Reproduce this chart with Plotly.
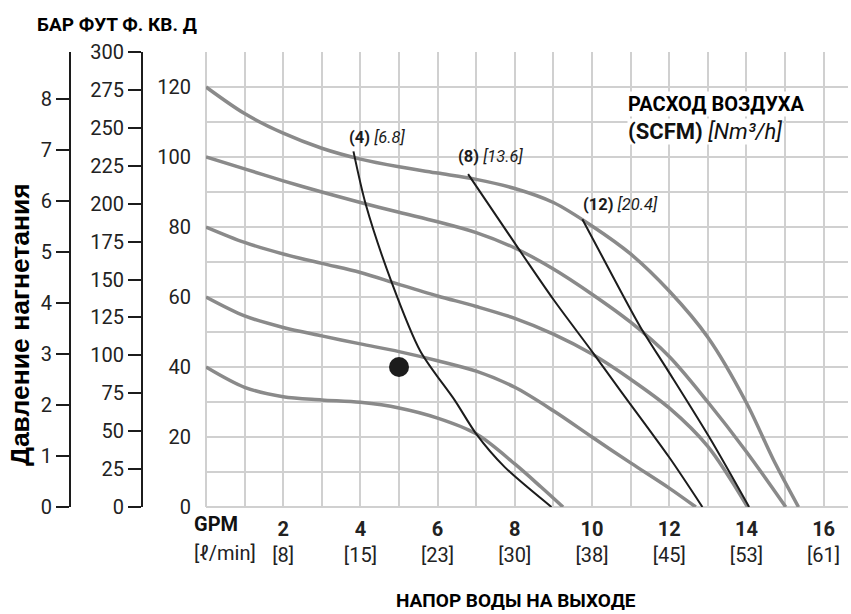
import plotly.graph_objects as go

# ---------------- data ----------------
gpm_ticks = [2, 4, 6, 8, 10, 12, 14, 16]
lpm_ticks = ["8", "15", "23", "30", "38", "45", "53", "61"]
psi_ticks = [0, 20, 40, 60, 80, 100, 120]
bar_ticks = [0, 1, 2, 3, 4, 5, 6, 7, 8]
ft_ticks = [0, 25, 50, 75, 100, 125, 150, 175, 200, 225, 250, 275, 300]

# discharge pressure curves (GPM, psi)
p120_gpm = [0, 1, 2, 3, 4, 5, 6, 7, 8, 9, 10, 11, 12, 13, 14, 14.7, 15.35]
p120_psi = [120, 112.4, 106.8, 102.5, 99.4, 97.2, 95.4, 93.6, 91.0, 87.0, 80.3, 72.3, 61.7, 48.5, 29.8, 13.5, 0]
p100_gpm = [0, 1, 2, 3, 4, 5, 6, 7, 8, 9, 10, 11, 12, 13, 14, 15.02]
p100_psi = [100, 96.6, 93.2, 90.0, 87.0, 84.2, 81.5, 78.4, 74.0, 68.0, 60.8, 52.8, 43.0, 30.0, 15.8, 0]
p80_gpm = [0, 1, 2, 3, 4, 5, 6, 7, 8, 9, 10, 11, 12, 13, 14.03]
p80_psi = [80, 75.6, 72.3, 69.6, 67.0, 63.6, 60.3, 57.3, 53.9, 49.4, 43.7, 36.5, 28.3, 17.3, 0]
p60_gpm = [0, 1, 2, 3, 4, 5, 6, 7, 8, 9, 10, 11, 12, 12.69]
p60_psi = [60, 54.6, 51.3, 48.9, 46.6, 44.4, 41.8, 38.8, 34.2, 27.5, 20.0, 12.6, 5.4, 0]
p40_gpm = [0, 1, 2, 3, 4, 5, 6, 7, 8, 8.68, 9.25]
p40_psi = [40, 34.2, 31.5, 30.6, 29.9, 28.3, 25.4, 20.9, 12.3, 5.7, 0]

# air consumption lines (GPM, psi)
air4_gpm = [3.82, 4.14, 4.81, 5.55, 6.45, 7, 7.74, 8.95]
air4_psi = [101.6, 86.4, 64.2, 44.6, 30.4, 20.9, 11.4, 0]
air8_gpm = [6.79, 8.25, 9.02, 10.05, 10.74, 12, 12.86]
air8_psi = [95.1, 71.3, 59.0, 43.7, 33.2, 14.2, 0]
air12_gpm = [9.75, 10.23, 10.8, 11.26, 12, 13.04, 14.07]
air12_psi = [82.2, 72.3, 60.5, 51.3, 38.4, 19.9, 0]

air_scfm = ["(4)", "(8)", "(12)"]
air_nm3h = ["[6.8]", "[13.6]", "[20.4]"]
air_label_gpm = [3.65, 6.48, 9.72]
air_label_psi = [105.7, 100.1, 86.3]

point_gpm = [5]
point_psi = [40]

# ---------------- styling / geometry ----------------
NARROW = "Roboto, Liberation Sans Narrow, sans-serif"
WIDE = "Liberation Sans, Arial, sans-serif"
W, H = 851, 614
L_PX, R_PX, T_PX, B_PX = 206, 848, 52, 507
PX_PER_GPM = 38.6
PAPER_W = R_PX
GRID = "#d0d0d0"
CURVE = "#8a8a8a"
INK = "#1c1c1c"


def px_x(px):
    return px / PAPER_W


def px_y(py):
    return (B_PX - py) / (B_PX - T_PX)


fig = go.Figure()

for gx, gy in [(p120_gpm, p120_psi), (p100_gpm, p100_psi), (p80_gpm, p80_psi),
               (p60_gpm, p60_psi), (p40_gpm, p40_psi)]:
    fig.add_trace(go.Scatter(x=gx, y=gy, mode="lines", hoverinfo="skip",
                             line=dict(color=CURVE, width=3.5, shape="spline", smoothing=0.9)))

for gx, gy in [(air4_gpm, air4_psi), (air8_gpm, air8_psi), (air12_gpm, air12_psi)]:
    fig.add_trace(go.Scatter(x=gx, y=gy, mode="lines", hoverinfo="skip",
                             line=dict(color=INK, width=2, shape="spline", smoothing=0.8)))

fig.add_trace(go.Scatter(x=point_gpm, y=point_psi, mode="markers", hoverinfo="skip",
                         marker=dict(color=INK, size=20)))

# empty helper traces so the bar / feet axes get drawn
fig.add_trace(go.Scatter(x=[None], y=[None], yaxis="y2", mode="lines", hoverinfo="skip"))
fig.add_trace(go.Scatter(x=[None], y=[None], yaxis="y3", mode="lines", hoverinfo="skip"))

annotations = []
for s, n, gx, gy in zip(air_scfm, air_nm3h, air_label_gpm, air_label_psi):
    annotations.append(dict(x=gx, y=gy, xref="x", yref="y", xanchor="left", yanchor="middle",
                            text=f"<b>{s}</b> <i>{n}</i>", showarrow=False,
                            font=dict(family=NARROW, size=16.5, color=INK)))

annotations += [
    dict(x=px_x(627), y=px_y(104), xref="paper", yref="paper", xanchor="left", yanchor="middle",
         text="<b>РАСХОД ВОЗДУХА</b>", showarrow=False, bgcolor="white", borderpad=0,
         font=dict(family=NARROW, size=20, color="#000")),
    dict(x=px_x(627), y=px_y(131), xref="paper", yref="paper", xanchor="left", yanchor="middle",
         text="<b>(SCFM)</b> <i>[Nm³/h]</i>", showarrow=False, bgcolor="white", borderpad=0,
         font=dict(family=NARROW, size=22, color="#111")),
    dict(x=px_x(35), y=px_y(25), xref="paper", yref="paper", xanchor="left", yanchor="middle",
         text="<b>БАР ФУТ Ф. КВ. Д</b>", showarrow=False,
         font=dict(family=NARROW, size=19, color="#000")),
    dict(x=px_x(20), y=px_y(325), xref="paper", yref="paper", xanchor="center", yanchor="middle",
         text="<b>Давление нагнетания</b>", showarrow=False, textangle=-90,
         font=dict(family=WIDE, size=26.5, color="#000")),
    dict(x=px_x(192), y=px_y(524), xref="paper", yref="paper", xanchor="left", yanchor="middle",
         text="<b>GPM</b>", showarrow=False,
         font=dict(family=NARROW, size=20, color="#111")),
    dict(x=px_x(192), y=px_y(553), xref="paper", yref="paper", xanchor="left", yanchor="middle",
         text="[ℓ/min]", showarrow=False,
         font=dict(family=NARROW, size=20, color="#222")),
    dict(x=px_x(516), y=px_y(600), xref="paper", yref="paper", xanchor="center", yanchor="middle",
         text="<b>НАПОР ВОДЫ НА ВЫХОДЕ</b>", showarrow=False,
         font=dict(family=NARROW, size=19, color="#000")),
]

fig.update_layout(
    width=W, height=H,
    margin=dict(l=0, r=W - R_PX, t=T_PX, b=H - B_PX, pad=0),
    paper_bgcolor="white", plot_bgcolor="white",
    showlegend=False,
    annotations=annotations,
    xaxis=dict(
        domain=[L_PX / PAPER_W, 1],
        range=[0, (R_PX - L_PX) / PX_PER_GPM],
        tickvals=gpm_ticks,
        ticktext=[f"<b>{g}</b><br>[{l}]" for g, l in zip(gpm_ticks, lpm_ticks)],
        tickfont=dict(family=NARROW, size=20, color="#222"),
        ticks="outside", ticklen=4, tickcolor="rgba(0,0,0,0)",
        showgrid=True, gridcolor=GRID, gridwidth=2,
        minor=dict(dtick=1, tick0=0, showgrid=True, gridcolor=GRID, gridwidth=2),
        zeroline=True, zerolinecolor=GRID, zerolinewidth=2,
        showline=False, fixedrange=True,
    ),
    yaxis=dict(
        range=[0, 130],
        tickvals=psi_ticks,
        tickfont=dict(family=NARROW, size=20, color="#222"),
        ticks="outside", ticklen=10, tickcolor="rgba(0,0,0,0)",
        showgrid=True, gridcolor=GRID, gridwidth=2,
        minor=dict(dtick=10, tick0=0, showgrid=True, gridcolor=GRID, gridwidth=2),
        zeroline=True, zerolinecolor=GRID, zerolinewidth=2,
        showline=False, fixedrange=True,
    ),
    yaxis2=dict(
        overlaying="y", anchor="free", position=px_x(70), side="left",
        range=[0, 8.92], tickvals=bar_ticks,
        tickfont=dict(family=NARROW, size=20, color="#222"),
        ticks="outside", ticklen=13, tickwidth=2, tickcolor=INK,
        showline=True, linewidth=2, linecolor=INK,
        showgrid=False, zeroline=False, fixedrange=True,
    ),
    yaxis3=dict(
        overlaying="y", anchor="free", position=px_x(142), side="left",
        range=[0, 300], tickvals=ft_ticks,
        tickfont=dict(family=NARROW, size=20, color="#222"),
        ticks="outside", ticklen=13, tickwidth=2, tickcolor=INK,
        showline=True, linewidth=2, linecolor=INK,
        showgrid=False, zeroline=False, fixedrange=True,
    ),
)

fig.write_html("out.html")
